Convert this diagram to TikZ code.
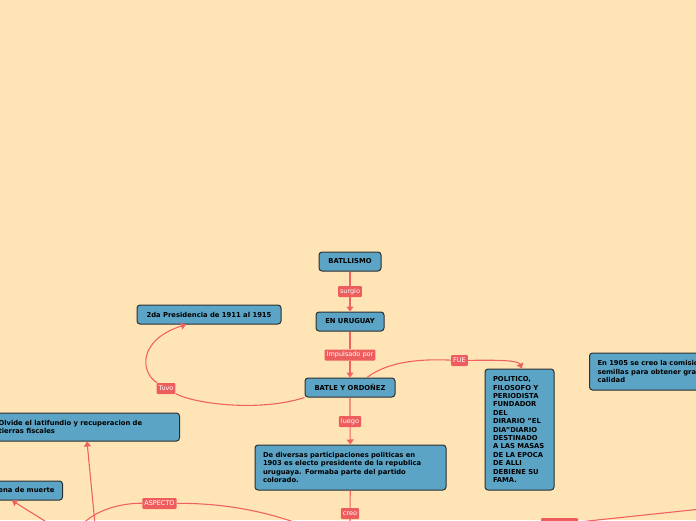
\documentclass[tikz,border=0pt]{standalone}
\usepackage{fontspec}
\setmainfont{DejaVu Sans}
\usetikzlibrary{arrows.meta}
\definecolor{bg}{HTML}{FFE5B6}
\definecolor{boxfill}{HTML}{5BA4C6}
\definecolor{boxline}{HTML}{2E2E2E}
\definecolor{edge}{HTML}{F06262}
\definecolor{lab}{HTML}{EE5D5D}
\tikzset{
  box/.style={draw=boxline, line width=1pt, fill=boxfill, rounded corners=3pt,
    font=\fontsize{6.8}{8.4}\selectfont\bfseries, text=black, inner sep=0pt, minimum height=19pt},
  lbl/.style={fill=lab, text=white, rounded corners=1pt, font=\fontsize{6.5}{7}\selectfont,
    inner xsep=2pt, inner ysep=0pt, minimum height=11pt},
  conn/.style={draw=edge, line width=1.1pt},
  arr/.style={conn, -{Triangle[width=7pt,length=5pt]}},
}
\begin{document}
\begin{tikzpicture}[x=1pt,y=-1pt]
\useasboundingbox (0,0) rectangle (696,520);
\fill[bg] (0,0) rectangle (696,520);
\clip (0,0) rectangle (696,520);

% boxes
\node[box, minimum width=62pt] (batllismo) at (350,261.5) {BATLLISMO};
\node[box, minimum width=68pt] (enuruguay) at (350,321.5) {EN URUGUAY};
\node[box, minimum width=90pt] (batle) at (350,387.5) {BATLE Y ORDOÑEZ};
\node[box, minimum width=144pt] (pres) at (209,314.5) {2da Presidencia de 1911 al 1915};
\node[box, minimum width=191pt, minimum height=45pt, text width=175pt, align=left] (diversas) at (350.5,467.5)
  {De diversas participaciones politicas en\\1903 es electo presidente de la republica\\uruguaya. Formaba parte del partido\\colorado.};
\node[box, minimum width=69pt, minimum height=121pt, text width=53pt, align=left] (politico) at (519.5,429.5)
  {POLITICO,\\FILOSOFO Y\\PERIODISTA\\FUNDADOR\\DEL\\DIRARIO "EL\\DIA"DIARIO\\DESTINADO\\A LAS MASAS\\DE LA EPOCA\\DE ALLI\\DEBIENE SU\\FAMA.};
\node[box, anchor=west, minimum width=216pt, minimum height=37pt, text width=200pt, align=left] (en1905) at (589,371.5)
  {En 1905 se creo la comision de\\semillas para obtener granos de\\calidad};
\node[box, anchor=east, minimum width=189pt, minimum height=28pt, text width=173pt, align=left] (olvide) at (180,427)
  {Olvide el latifundio y recuperacion de\\tierras fiscales};
\node[box, anchor=east, inner xsep=8pt] (pena) at (63,490.5) {pena de muerte};

% labels
\node[lbl] (surgio) at (350,291.5) {surgio};
\node[lbl] (impulsado) at (350,355) {Impulsado por};
\node[lbl] (luego) at (350,421.5) {luego};
\node[lbl] (creo) at (350,513.5) {creo};
\node[lbl] (tuvo) at (166,388.5) {Tuvo};
\node[lbl] (fue) at (459.5,360.5) {FUE};
\node[lbl] (aspecto) at (159.5,503.5) {ASPECTO};
\node[lbl, minimum width=37pt, minimum height=12pt] (lbr) at (559.5,524) {};

% helper coordinates
\coordinate (cbelow) at (350,545);
\coordinate (ptuvo) at (186,0);
\coordinate (osrc) at (97,545);
\coordinate (ox) at (87,0);
\coordinate (psrc) at (59.3,530);
\coordinate (px) at (12,0);
\coordinate (a1) at (76,532);
\coordinate (a2) at (310,528);
\coordinate (b1) at (500,530);
\coordinate (b2) at (720,507);
\coordinate (esrc) at (712,460);
\coordinate (ex) at (699,0);

% connectors
\draw[arr] (batllismo) -- (surgio) -- (enuruguay);
\draw[arr] (enuruguay) -- (impulsado) -- (batle);
\draw[arr] (batle) -- (luego) -- (diversas);
\draw[conn] (diversas) -- (creo) -- (cbelow);
\draw[arr] (batle.south west) .. controls (260,412) and (195,404) .. (tuvo)
  .. controls (140,372) and (138,340) .. (pres.south -| ptuvo);
\draw[arr] ([xshift=17pt]batle.north) .. controls (390,360) and (425,359) .. (fue)
  .. controls (495,360) and (518,360) .. ([xshift=2.5pt]politico.north);
\draw[arr] (osrc) -- (olvide.south -| ox);
\draw[arr] (psrc) -- (pena.south -| px);
\draw[conn] (a1) .. controls (92,508) and (125,503) .. (aspecto)
  .. controls (220,503) and (265,510) .. (a2);
\draw[conn] (b1) -- (lbr) -- (b2);
\draw[arr] (esrc) -- (en1905.south -| ex);
\end{tikzpicture}
\end{document}
